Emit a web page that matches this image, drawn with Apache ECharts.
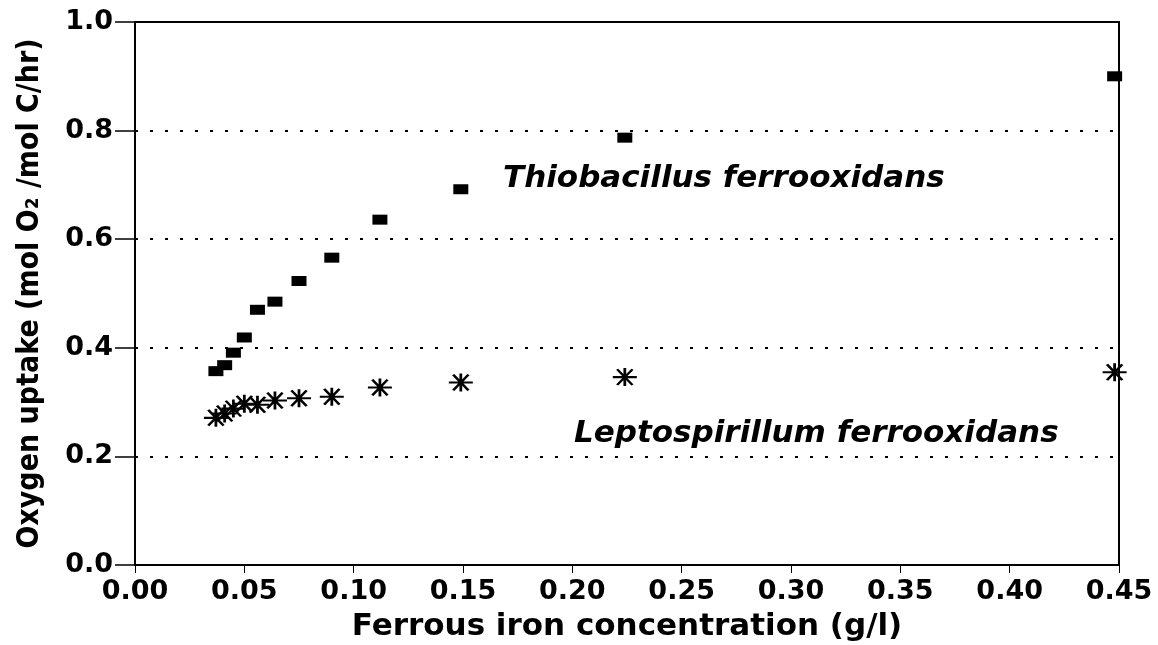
<!DOCTYPE html>
<html>
<head>
<meta charset="utf-8">
<script src="https://cdn.jsdelivr.net/npm/echarts@6/dist/echarts.min.js"></script>
<style>
html,body{margin:0;padding:0;background:#fff;}
#chart{width:1158px;height:645px;}
</style>
</head>
<body>
<div id="chart"></div>
<script>
// Ferrous iron concentration (g/l)
const ironConc = [0.037, 0.041, 0.045, 0.050, 0.056, 0.064, 0.075, 0.090, 0.112, 0.149, 0.224, 0.448];
// Oxygen uptake (mol O2 / mol C / hr)
const thiobacillus = [0.357, 0.368, 0.391, 0.419, 0.470, 0.485, 0.523, 0.566, 0.636, 0.692, 0.787, 0.900];
const leptospirillum = [0.271, 0.279, 0.288, 0.297, 0.295, 0.303, 0.307, 0.310, 0.327, 0.336, 0.346, 0.355];
const seriesNames = ['Thiobacillus ferrooxidans', 'Leptospirillum ferrooxidans'];
const xTitle = 'Ferrous iron concentration (g/l)';
const yTitle = 'Oxygen uptake (mol O\u2082 /mol C/hr)';

const chart = echarts.init(document.getElementById('chart'), null, {renderer: 'canvas'});
const pts = (ys) => ironConc.map((x, i) => [x, ys[i]]);
const starPath = 'path://M0,8 L22,8 M11,0 L11,16 M4,1 L18,15 M4,15 L18,1';

chart.setOption({
  animation: false,
  backgroundColor: '#fff',
  grid: {left: 135, right: 39, top: 22, bottom: 80, show: true, borderColor: '#000', borderWidth: 2, outerBoundsMode: 'none', containLabel: false},
  xAxis: {
    type: 'value', min: 0, max: 0.45, interval: 0.05,
    name: xTitle, nameLocation: 'middle', nameGap: 46,
    nameTextStyle: {fontFamily: 'DejaVu Sans', fontWeight: 'bold', fontSize: 31, color: '#000'},
    axisLine: {show: true, lineStyle: {color: '#000', width: 2}},
    axisTick: {show: true, length: 8, lineStyle: {color: '#000', width: 1}},
    axisLabel: {margin: 13, formatter: v => v.toFixed(2), fontFamily: 'DejaVu Sans', fontWeight: 'bold', fontSize: 27, color: '#000'},
    splitLine: {show: false}
  },
  yAxis: {
    type: 'value', min: 0, max: 1.0, interval: 0.2,
    name: yTitle, nameLocation: 'middle', nameGap: 90,
    nameTextStyle: {fontFamily: 'DejaVu Sans Condensed', fontWeight: 'bold', fontSize: 30, color: '#000'},
    axisLine: {show: true, lineStyle: {color: '#000', width: 2}},
    axisTick: {show: true, length: 20, lineStyle: {color: '#000', width: 1.5}},
    axisLabel: {margin: 22, formatter: v => v.toFixed(1), fontFamily: 'DejaVu Sans', fontWeight: 'bold', fontSize: 27, color: '#000'},
    splitLine: {show: true, lineStyle: {color: '#000', width: 2, type: [3, 12]}}
  },
  series: [
    {
      name: seriesNames[0], type: 'scatter', data: pts(thiobacillus),
      symbol: 'rect', symbolSize: [15, 10],
      itemStyle: {color: '#000', opacity: 1}
    },
    {
      name: seriesNames[1], type: 'scatter', data: pts(leptospirillum),
      symbol: starPath, symbolSize: [24, 18],
      itemStyle: {color: '#000', borderColor: '#000', borderWidth: 2.4, opacity: 1}
    }
  ],
  graphic: [
    {type: 'text', left: 503, top: 163, style: {text: seriesNames[0], font: 'italic bold 31px "DejaVu Sans"', fill: '#000'}},
    {type: 'text', left: 574, top: 418, style: {text: seriesNames[1], font: 'italic bold 31px "DejaVu Sans"', fill: '#000'}}
  ]
});
</script>
</body>
</html>
